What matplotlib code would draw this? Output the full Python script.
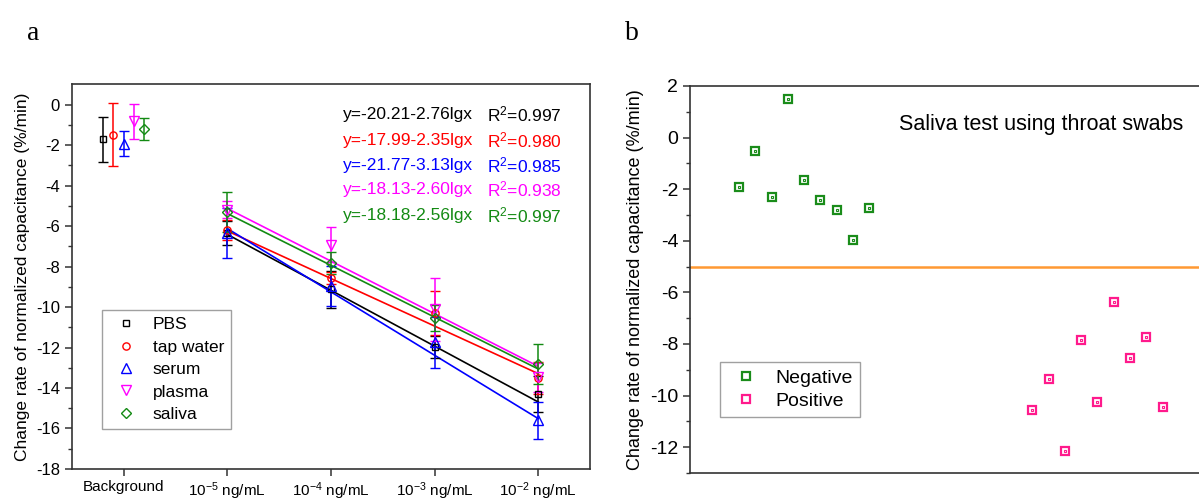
import numpy as np
import matplotlib
matplotlib.use('Agg')
import matplotlib.pyplot as plt

plt.rcParams['font.family'] = ['Liberation Sans', 'DejaVu Sans']
plt.rcParams['mathtext.fontset'] = 'custom'
plt.rcParams['mathtext.rm'] = 'Liberation Sans'
plt.rcParams['mathtext.it'] = 'Liberation Sans:italic'
plt.rcParams['axes.unicode_minus'] = False

# ---- panel a data ----
samples = ['PBS', 'tap water', 'serum', 'plasma', 'saliva']
colors_a = ['black', '#ff0000', '#0000ff', '#ff00ff', '#138a13']
markers_a = ['s', 'o', '^', 'v', 'D']
msizes_a = [4.5, 5.2, 7.0, 7.0, 5.2]
bg_offset = [-0.2, -0.1, 0.0, 0.1, 0.2]
xticklabels_a = ['Background', '10$^{-5}$ ng/mL', '10$^{-4}$ ng/mL',
                 '10$^{-3}$ ng/mL', '10$^{-2}$ ng/mL']
lg_conc = [-5, -4, -3, -2]

# first value = background, then 1e-5 .. 1e-2 ng/mL
pbs_y = [-1.72, -6.35, -9.13, -11.97, -14.30]
pbs_err = [1.10, 0.60, 0.90, 0.53, 0.90]
tap_y = [-1.48, -6.18, -8.56, -10.30, -13.50]
tap_err = [1.55, 0.50, 0.30, 1.08, 0.80]
serum_y = [-1.93, -6.35, -8.95, -11.75, -15.60]
serum_err = [0.62, 1.22, 1.00, 1.25, 0.92]
plasma_y = [-0.83, -5.20, -6.92, -10.12, -13.48]
plasma_err = [0.85, 0.42, 0.85, 1.55, 0.70]
saliva_y = [-1.19, -5.30, -7.82, -10.53, -12.82]
saliva_err = [0.55, 1.00, 0.55, 0.65, 1.00]

fit_a = [-20.21, -17.99, -21.77, -18.13, -18.18]
fit_b = [-2.76, -2.35, -3.13, -2.60, -2.56]
fit_r2 = ['0.997', '0.980', '0.985', '0.938', '0.997']

# ---- panel b data ----
neg_idx = [1, 2, 3, 4, 5, 6, 7, 8, 9]
neg_vals = [-1.93, -0.52, -2.31, 1.51, -1.64, -2.43, -2.81, -3.97, -2.72]
pos_idx = [19, 20, 21, 22, 23, 24, 25, 26, 27]
pos_vals = [-10.57, -9.37, -12.14, -7.84, -10.26, -6.37, -8.53, -7.74, -10.45]
cutoff = -5

ylab = 'Change rate of normalized capacitance (%/min)'
spine_c = '#333333'

fig = plt.figure(figsize=(11.99, 5.01), dpi=100)

# ================= a =================
ax = fig.add_axes([0.0598, 0.0639, 0.4323, 0.7678])
all_y = [pbs_y, tap_y, serum_y, plasma_y, saliva_y]
all_err = [pbs_err, tap_err, serum_err, plasma_err, saliva_err]
xc = np.arange(1, 5)
for i in range(5):
    c = colors_a[i]
    lg = np.array(lg_conc)
    ax.plot(xc, fit_a[i] + fit_b[i] * lg, color=c, lw=1.2, zorder=2)
    xs = [bg_offset[i]] + list(xc)
    ax.errorbar(xs, all_y[i], yerr=all_err[i], fmt=markers_a[i], color=c,
                ms=msizes_a[i], mfc='none', mec=c, mew=1.0, elinewidth=1.1,
                capsize=3.6, capthick=1.1, label=samples[i], zorder=3)

ax.set_xlim(-0.5, 4.5)
ax.set_ylim(-18, 1)
ax.set_xticks(range(5))
ax.set_xticklabels(xticklabels_a)
ax.set_yticks(np.arange(-18, 1, 2))
ax.set_yticks(np.arange(-17, 1, 2), minor=True)
ax.tick_params(axis='both', direction='out', length=5, width=1.1,
               labelsize=12, color=spine_c)
ax.tick_params(axis='x', labelsize=11, pad=3)
ax.tick_params(axis='y', which='minor', length=3, width=1.0, color=spine_c)
for s in ax.spines.values():
    s.set_linewidth(1.2)
    s.set_color(spine_c)
ax.set_ylabel(ylab, fontsize=12.5, labelpad=4)

rows = [0.922, 0.855, 0.788, 0.727, 0.660]
for i in range(5):
    ax.text(0.5235, rows[i], 'y=%.2f%.2flgx' % (fit_a[i], fit_b[i]),
            transform=ax.transAxes, color=colors_a[i], fontsize=12.5, va='center')
    ax.text(0.8006, rows[i], 'R$^2$=' + fit_r2[i],
            transform=ax.transAxes, color=colors_a[i], fontsize=12.5, va='center')

h, l = ax.get_legend_handles_labels()
h = [hh[0] for hh in h]
leg = ax.legend(h, l, loc='upper left', bbox_to_anchor=(0.0579, 0.413),
                fontsize=12.5, frameon=True, fancybox=False, edgecolor='#888888',
                handlelength=2.0, handletextpad=0.55, labelspacing=0.42,
                borderpad=0.4, borderaxespad=0)
leg.get_frame().set_linewidth(1.0)

# ================= b =================
bx = fig.add_axes([0.5755, 0.0559, 0.435, 0.7725])
green_b = '#1a8c1a'
pink_b = '#ff1a8c'
bx.axhline(cutoff, color='#ff9933', lw=1.8, zorder=1)
bx.plot(neg_idx, neg_vals, 's', ms=5.8, mfc='white', mec=green_b, mew=1.6,
        label='Negative', zorder=3)
bx.plot(neg_idx, neg_vals, 's', ms=1.6, mfc='white', mec=green_b, mew=0.8, zorder=4)
bx.plot(pos_idx, pos_vals, 's', ms=5.8, mfc='white', mec=pink_b, mew=1.6,
        label='Positive', zorder=3)
bx.plot(pos_idx, pos_vals, 's', ms=1.6, mfc='white', mec=pink_b, mew=0.8, zorder=4)
bx.set_xlim(-2, 30)
bx.set_ylim(-13, 2)
bx.set_xticks([])
bx.set_yticks(np.arange(-12, 3, 2))
bx.set_yticks(np.arange(-13, 2, 2), minor=True)
bx.tick_params(axis='y', direction='out', length=5, width=1.1, labelsize=14,
               color=spine_c)
bx.tick_params(axis='y', which='minor', length=3, width=1.0, color=spine_c)
for s in bx.spines.values():
    s.set_linewidth(1.2)
    s.set_color(spine_c)
bx.spines['right'].set_visible(False)
bx.set_ylabel(ylab, fontsize=13, labelpad=4)
bx.text(10.8, 0.5, 'Saliva test using throat swabs', fontsize=15.5, va='center')
legb = bx.legend(loc='upper left', bbox_to_anchor=(0.0575, 0.2876), fontsize=14,
                 frameon=True, fancybox=False, edgecolor='#888888',
                 handlelength=1.88, handletextpad=0.56, labelspacing=0.25,
                 borderpad=0.4, borderaxespad=0)
legb.get_frame().set_linewidth(1.0)

fig.text(27 / 1199, 1 - 40 / 501, 'a', fontsize=20, family='Liberation Serif')
fig.text(625 / 1199, 1 - 40 / 501, 'b', fontsize=20, family='Liberation Serif')

fig.savefig('out.png', dpi=100)
